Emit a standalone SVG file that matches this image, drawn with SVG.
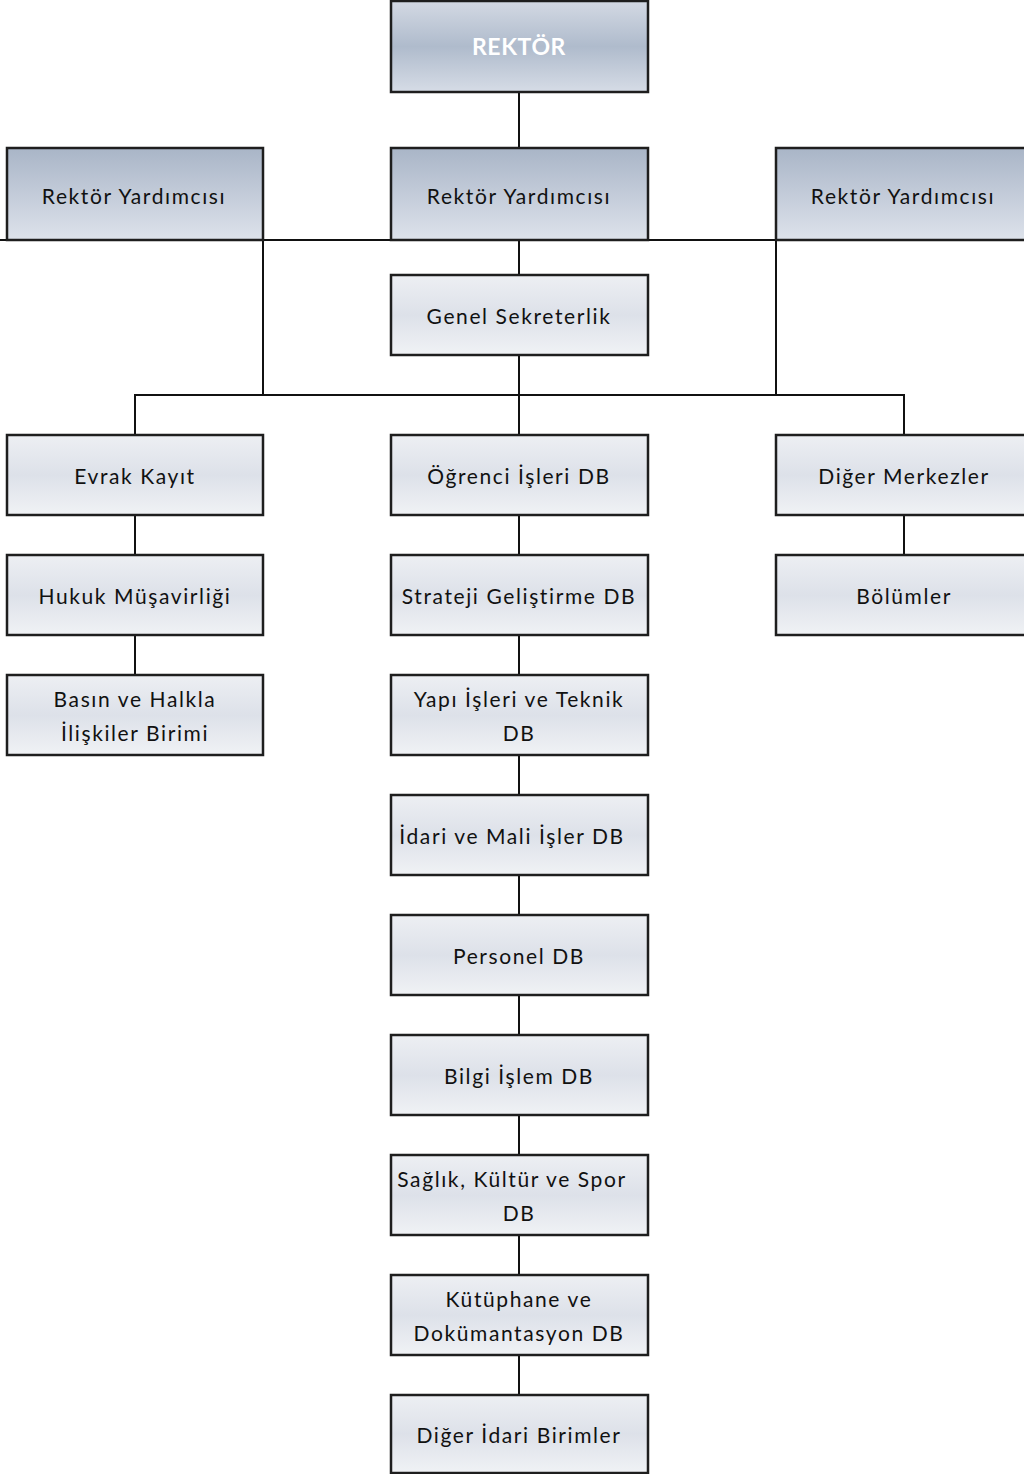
<svg xmlns="http://www.w3.org/2000/svg" width="1024" height="1474" viewBox="0 0 1024 1474">
<style>
.box{stroke:#1e1e1e;stroke-width:2.5}
.t{font-family:Lato,"Open Sans","Liberation Sans",sans-serif;font-size:21px;letter-spacing:1.6px;fill:#111;text-anchor:middle;dominant-baseline:central}
.tw{font-family:Lato,"Open Sans","Liberation Sans",sans-serif;font-size:23px;letter-spacing:0.6px;font-weight:bold;fill:#fff;text-anchor:middle;dominant-baseline:central}
.c{stroke:#111;stroke-width:2;fill:none}
</style>
<defs>
<linearGradient id="gR" x1="0" y1="0" x2="0" y2="1">
<stop offset="0" stop-color="#d3d9e3"/><stop offset="0.5" stop-color="#afbbcc"/><stop offset="1" stop-color="#d6dce6"/>
</linearGradient>
<linearGradient id="gY" x1="0" y1="0" x2="0" y2="1">
<stop offset="0" stop-color="#a9b5c7"/><stop offset="1" stop-color="#dde2eb"/>
</linearGradient>
<linearGradient id="gL" x1="0" y1="0" x2="0" y2="1">
<stop offset="0" stop-color="#edeff3"/><stop offset="0.5" stop-color="#dde1e9"/><stop offset="1" stop-color="#f0f2f5"/>
</linearGradient>
</defs>
<rect width="1024" height="1474" fill="#fff"/>
<g id="connectors">
<line class="c" x1="519" y1="92" x2="519" y2="148"/>
<line class="c" x1="0" y1="240" x2="1024" y2="240"/>
<line class="c" x1="519" y1="240" x2="519" y2="275"/>
<line class="c" x1="263" y1="240" x2="263" y2="395"/>
<line class="c" x1="776" y1="240" x2="776" y2="395"/>
<line class="c" x1="519" y1="355" x2="519" y2="435"/>
<polyline class="c" points="135,435 135,395 904,395 904,435"/>
<line class="c" x1="135" y1="515" x2="135" y2="555"/>
<line class="c" x1="135" y1="635" x2="135" y2="675"/>
<line class="c" x1="904" y1="515" x2="904" y2="555"/>
<line class="c" x1="519" y1="515" x2="519" y2="1395"/>
</g>
<g id="rektor"><rect class="box" x="391" y="1" width="257" height="91" fill="url(#gR)"/><text class="tw" x="519" y="46">REKTÖR</text></g>
<g id="ry-left"><rect class="box" x="7" y="148" width="256" height="92" fill="url(#gY)"/><text class="t" x="134" y="195">Rektör Yardımcısı</text></g>
<g id="ry-mid"><rect class="box" x="391" y="148" width="257" height="92" fill="url(#gY)"/><text class="t" x="519" y="195">Rektör Yardımcısı</text></g>
<g id="ry-right"><rect class="box" x="776" y="148" width="260" height="92" fill="url(#gY)"/><text class="t" x="903" y="195">Rektör Yardımcısı</text></g>
<g id="genel"><rect class="box" x="391" y="275" width="257" height="80" fill="url(#gL)"/><text class="t" x="519" y="315">Genel Sekreterlik</text></g>
<g id="evrak"><rect class="box" x="7" y="435" width="256" height="80" fill="url(#gL)"/><text class="t" x="135" y="475">Evrak Kayıt</text></g>
<g id="hukuk"><rect class="box" x="7" y="555" width="256" height="80" fill="url(#gL)"/><text class="t" x="135" y="595">Hukuk Müşavirliği</text></g>
<g id="basin"><rect class="box" x="7" y="675" width="256" height="80" fill="url(#gL)"/><text class="t" x="135" y="698">Basın ve Halkla</text><text class="t" x="135" y="732">İlişkiler Birimi</text></g>
<g id="ogrenci"><rect class="box" x="391" y="435" width="257" height="80" fill="url(#gL)"/><text class="t" x="519" y="475">Öğrenci İşleri DB</text></g>
<g id="strateji"><rect class="box" x="391" y="555" width="257" height="80" fill="url(#gL)"/><text class="t" x="519" y="595">Strateji Geliştirme DB</text></g>
<g id="yapi"><rect class="box" x="391" y="675" width="257" height="80" fill="url(#gL)"/><text class="t" x="519" y="698">Yapı İşleri ve Teknik</text><text class="t" x="519" y="732">DB</text></g>
<g id="idari"><rect class="box" x="391" y="795" width="257" height="80" fill="url(#gL)"/><text class="t" x="512" y="835">İdari ve Mali İşler DB</text></g>
<g id="personel"><rect class="box" x="391" y="915" width="257" height="80" fill="url(#gL)"/><text class="t" x="519" y="955">Personel DB</text></g>
<g id="bilgi"><rect class="box" x="391" y="1035" width="257" height="80" fill="url(#gL)"/><text class="t" x="519" y="1075">Bilgi İşlem DB</text></g>
<g id="saglik"><rect class="box" x="391" y="1155" width="257" height="80" fill="url(#gL)"/><text class="t" x="512" y="1178">Sağlık, Kültür ve Spor</text><text class="t" x="519" y="1212">DB</text></g>
<g id="kutuphane"><rect class="box" x="391" y="1275" width="257" height="80" fill="url(#gL)"/><text class="t" x="519" y="1298">Kütüphane ve</text><text class="t" x="519" y="1332">Dokümantasyon DB</text></g>
<g id="diger-idari"><rect class="box" x="391" y="1395" width="257" height="78" fill="url(#gL)"/><text class="t" x="519" y="1434">Diğer İdari Birimler</text></g>
<g id="diger-merkez"><rect class="box" x="776" y="435" width="260" height="80" fill="url(#gL)"/><text class="t" x="904" y="475">Diğer Merkezler</text></g>
<g id="bolumler"><rect class="box" x="776" y="555" width="260" height="80" fill="url(#gL)"/><text class="t" x="904" y="595">Bölümler</text></g>
</svg>
